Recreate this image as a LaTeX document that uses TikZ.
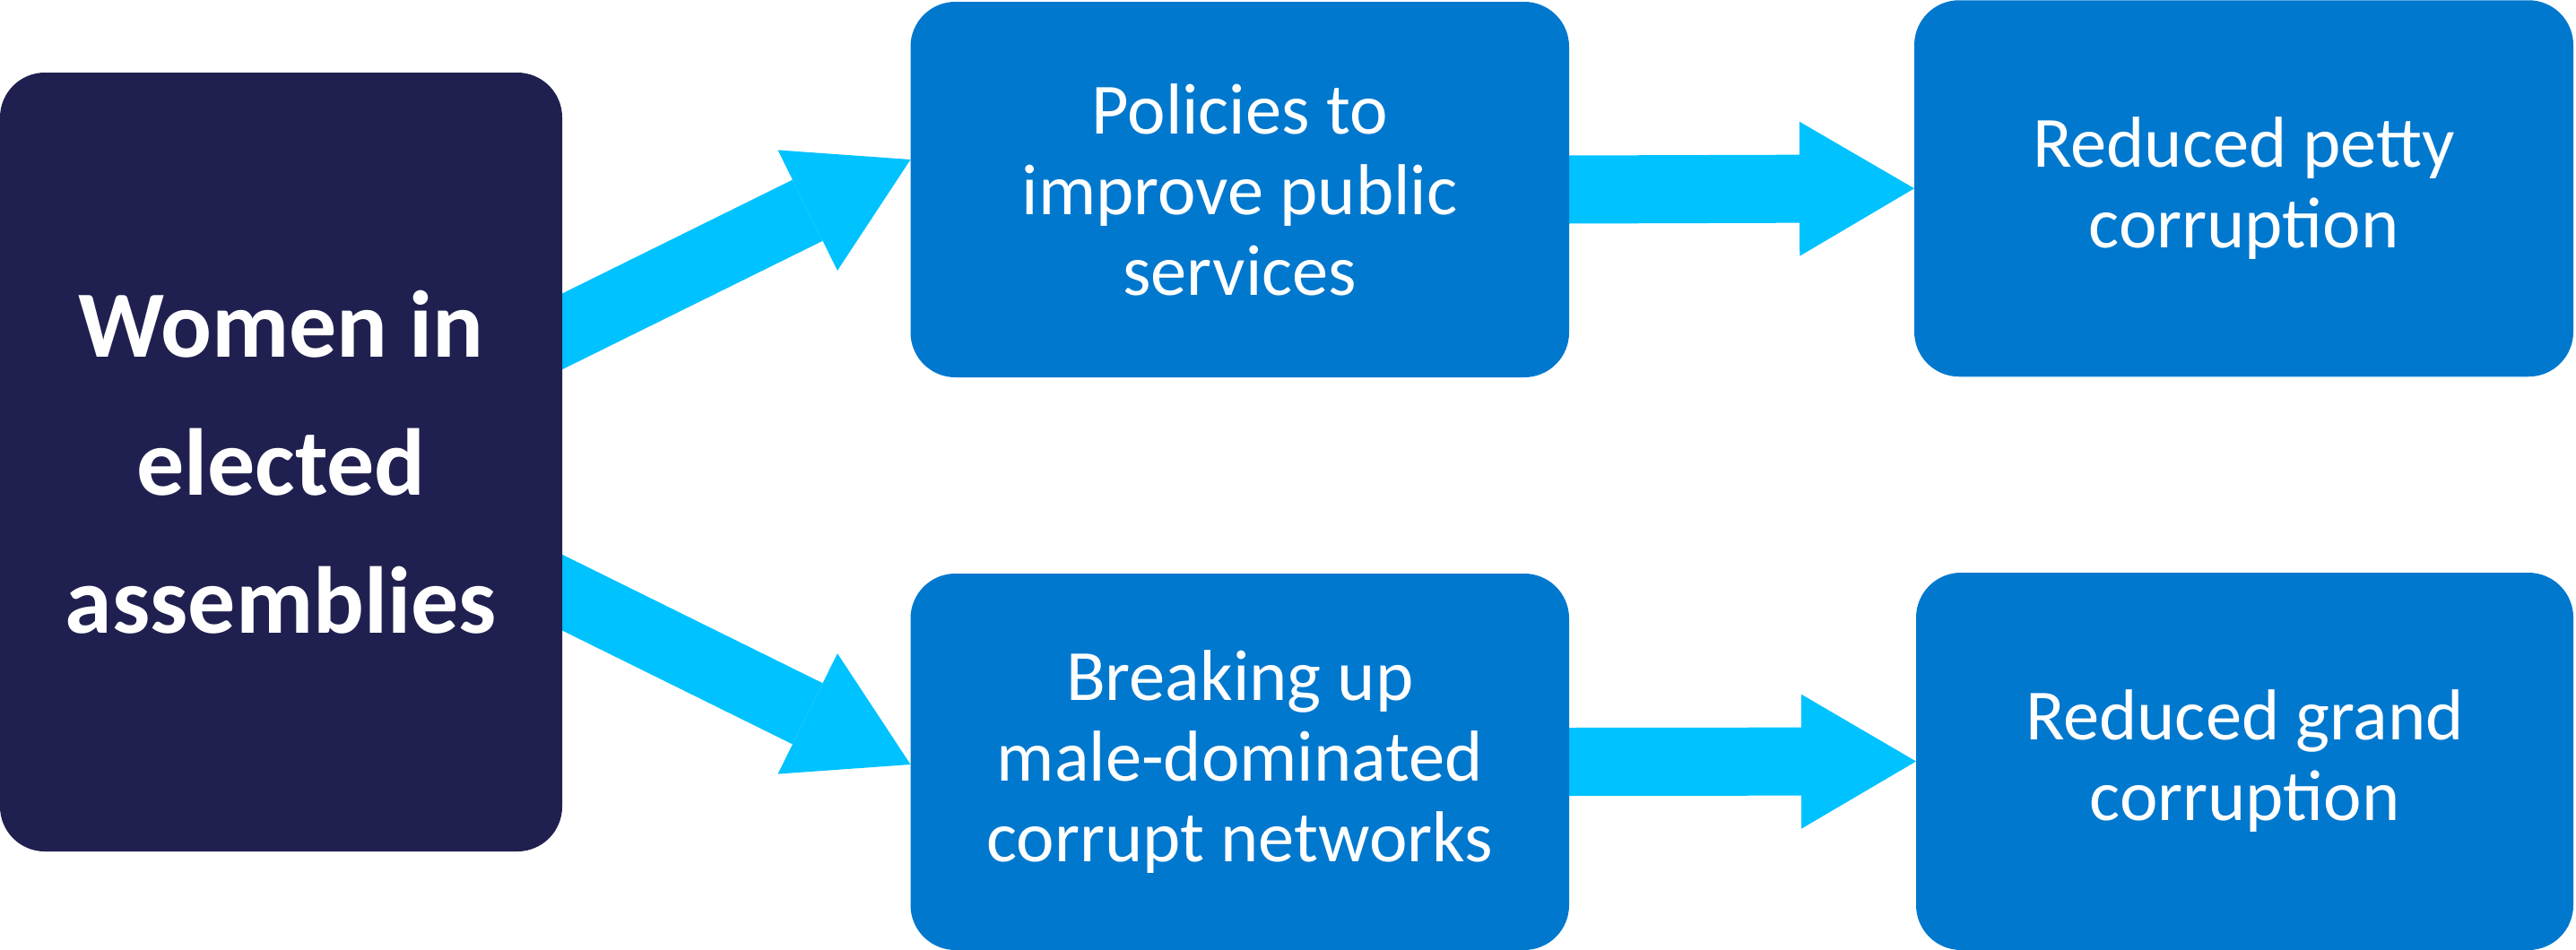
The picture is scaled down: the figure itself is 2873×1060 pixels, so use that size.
\documentclass[tikz,border=0pt]{standalone}
\usepackage{fontspec}
\setmainfont{Carlito}
\usetikzlibrary{arrows.meta,calc,backgrounds}
\definecolor{navy}{RGB}{32,32,80}
\definecolor{boxblue}{RGB}{0,120,206}
\definecolor{arrowcyan}{RGB}{0,194,255}
\begin{document}
\begin{tikzpicture}[x=1pt,y=-1pt,
  basebox/.style={rounded corners=50pt, inner sep=0pt, outer sep=0pt, align=center, text=white},
  navybox/.style={basebox, fill=navy, font=\fontsize{106}{154}\selectfont\bfseries},
  bluebox/.style={basebox, fill=boxblue, font=\fontsize{80.5}{90}\selectfont},
  flow/.style={draw=arrowcyan, line width=76pt, line cap=butt,
    -{Triangle[length=128pt, width=150pt, line width=0pt, fill=arrowcyan]}}
]
\useasboundingbox (0,0) rectangle (2873,1060);
\node[navybox, minimum width=627pt, minimum height=869pt] (women) at (313.5,515.5)
  {Women in\\elected\\assemblies};
\node[bluebox, minimum width=734.5pt, minimum height=419pt] (policies) at (1382.75,211.5)
  {Policies to\\improve public\\services};
\node[bluebox, minimum width=735pt, minimum height=420pt] (petty) at (2502.5,210.25)
  {Reduced petty\\corruption};
\node[bluebox, minimum width=734.5pt, minimum height=420pt] (breaking) at (1382.75,850)
  {Breaking up\\male-dominated\\corrupt networks};
\node[bluebox, minimum width=733pt, minimum height=421pt] (grand) at (2503.5,849.5)
  {Reduced grand\\corruption};
\coordinate (s1) at ($(women.east)+(-30,-130.8)$);
\coordinate (t1) at ($(policies.west)+(0,-33.5)$);
\coordinate (s2) at ($(women.east)+(-30,130.8)$);
\coordinate (t2) at ($(breaking.west)+(0,3)$);
\begin{scope}[on background layer]
\draw[flow] (s1) -- (t1);
\draw[flow] (s2) -- (t2);
\draw[flow] (policies.east) -- (petty.west);
\draw[flow] (breaking.east) -- (grand.west);
\end{scope}
\end{tikzpicture}
\end{document}
